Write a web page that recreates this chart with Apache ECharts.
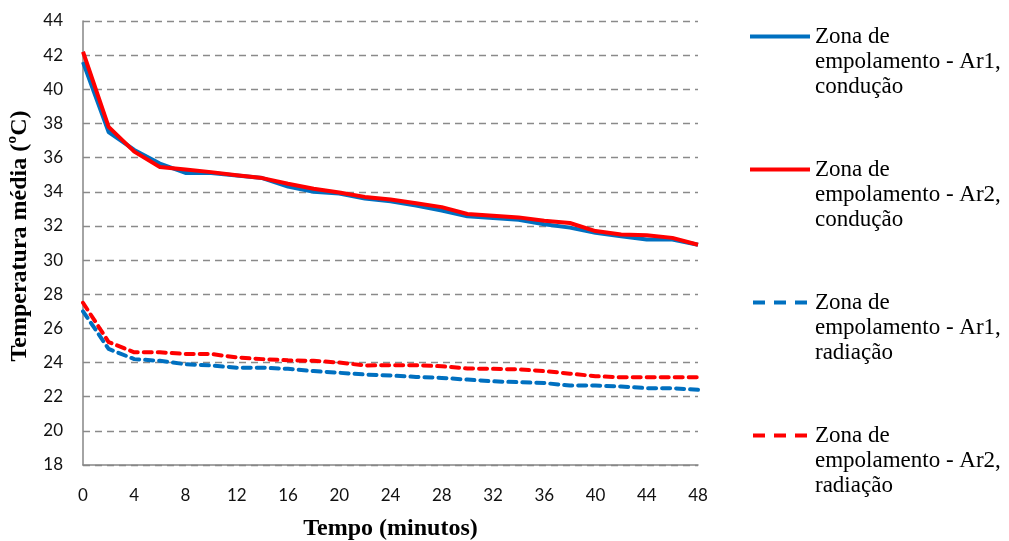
<!DOCTYPE html>
<html>
<head>
<meta charset="utf-8">
<script src="https://cdn.jsdelivr.net/npm/echarts@6/dist/echarts.min.js"></script>
<style>
html,body{margin:0;padding:0;background:#fff;}
#chart{width:1009px;height:541px;}
</style>
</head>
<body>
<div id="chart"></div>
<script>
const times = [0,2,4,6,8,10,12,14,16,18,20,22,24,26,28,30,32,34,36,38,40,42,44,46,48];
const ar1Conducao = [41.6,37.5,36.45,35.65,35.1,35.1,34.95,34.8,34.3,34.0,33.9,33.6,33.45,33.2,32.9,32.56,32.46,32.36,32.1,31.9,31.6,31.4,31.2,31.2,30.9];
const ar2Conducao = [42.2,37.8,36.35,35.45,35.3,35.15,34.97,34.8,34.47,34.18,33.96,33.7,33.55,33.33,33.1,32.7,32.6,32.5,32.3,32.17,31.7,31.5,31.45,31.3,30.9];
const ar1Radiacao = [27.0,24.8,24.2,24.1,23.9,23.83,23.7,23.7,23.63,23.5,23.4,23.3,23.24,23.16,23.1,23.0,22.9,22.85,22.8,22.65,22.65,22.6,22.5,22.5,22.4];
const ar2Radiacao = [27.5,25.2,24.6,24.6,24.5,24.5,24.3,24.2,24.13,24.1,24.0,23.83,23.84,23.84,23.78,23.65,23.63,23.6,23.5,23.35,23.2,23.14,23.14,23.14,23.14];
const seriesNames = [
  'Zona de\nempolamento - Ar1,\ncondução',
  'Zona de\nempolamento - Ar2,\ncondução',
  'Zona de\nempolamento - Ar1,\nradiação',
  'Zona de\nempolamento - Ar2,\nradiação'
];
const xAxisTitle = 'Tempo (minutos)';
const yAxisTitle = 'Temperatura média (ºC)';

const BLUE = '#0070C0', RED = '#FF0000';
const SOLID_ICON = 'path://M0,0H60V4H0Z';
const DASH_ICON = 'path://M0,0H12V4H0Z M21,0H33V4H21Z M42,0H54V4H42Z';
function pairs(vals){ return times.map((t,i)=>[t, vals[i]]); }
function mk(name, vals, color, dashed){
  return {
    name: name, type: 'line', data: pairs(vals), symbol: 'none', showSymbol: false,
    lineStyle: {color: color, width: 4, type: dashed ? [8,6] : 'solid', cap: dashed ? 'round' : 'butt', join: 'round'},
    itemStyle: {color: color},
    emphasis: {disabled: true}, animation: false
  };
}

const chart = echarts.init(document.getElementById('chart'), null, {renderer: 'canvas'});
chart.setOption({
  backgroundColor: '#fff',
  animation: false,
  grid: {left: 83, right: 311, top: 21, bottom: 76, outerBoundsMode: 'none', containLabel: false},
  xAxis: {
    type: 'value', min: 0, max: 48, interval: 4,
    name: xAxisTitle, nameLocation: 'middle', nameGap: 52,
    nameTextStyle: {fontFamily: 'Liberation Serif', fontWeight: 'bold', fontSize: 24, color: '#000'},
    axisLine: {show: true, lineStyle: {color: '#868686', width: 1.5}},
    axisTick: {show: false},
    axisLabel: {fontFamily: 'Lato', fontSize: 17, color: '#111', margin: 22},
    splitLine: {show: false}
  },
  yAxis: {
    type: 'value', min: 18, max: 44, interval: 2,
    name: yAxisTitle, nameLocation: 'middle', nameGap: 51, nameRotate: 90,
    nameTextStyle: {fontFamily: 'Liberation Serif', fontWeight: 'bold', fontSize: 24, color: '#000', padding: [0, 0, 0, 14]},
    axisLine: {show: true, lineStyle: {color: '#868686', width: 1.5}},
    axisTick: {show: false},
    axisLabel: {fontFamily: 'Lato', fontSize: 17, color: '#111', margin: 20},
    splitLine: {show: true, lineStyle: {color: '#8a8a8a', width: 1.3, type: [7,5]}}
  },
  legend: {
    orient: 'vertical', left: 745, top: -31,
    itemWidth: 60, itemHeight: 4, itemGap: 8,
    data: [
      {name: seriesNames[0], icon: SOLID_ICON},
      {name: seriesNames[1], icon: SOLID_ICON},
      {name: seriesNames[2], icon: DASH_ICON},
      {name: seriesNames[3], icon: DASH_ICON}
    ],
    itemStyle: {borderWidth: 0},
    formatter: function(name){ return '\n\n' + name; },
    textStyle: {fontFamily: 'Liberation Serif', fontSize: 23, color: '#000', lineHeight: 25},
    selectedMode: false
  },
  series: [
    mk(seriesNames[0], ar1Conducao, BLUE, false),
    mk(seriesNames[1], ar2Conducao, RED, false),
    mk(seriesNames[2], ar1Radiacao, BLUE, true),
    mk(seriesNames[3], ar2Radiacao, RED, true)
  ]
});
</script>
</body>
</html>
